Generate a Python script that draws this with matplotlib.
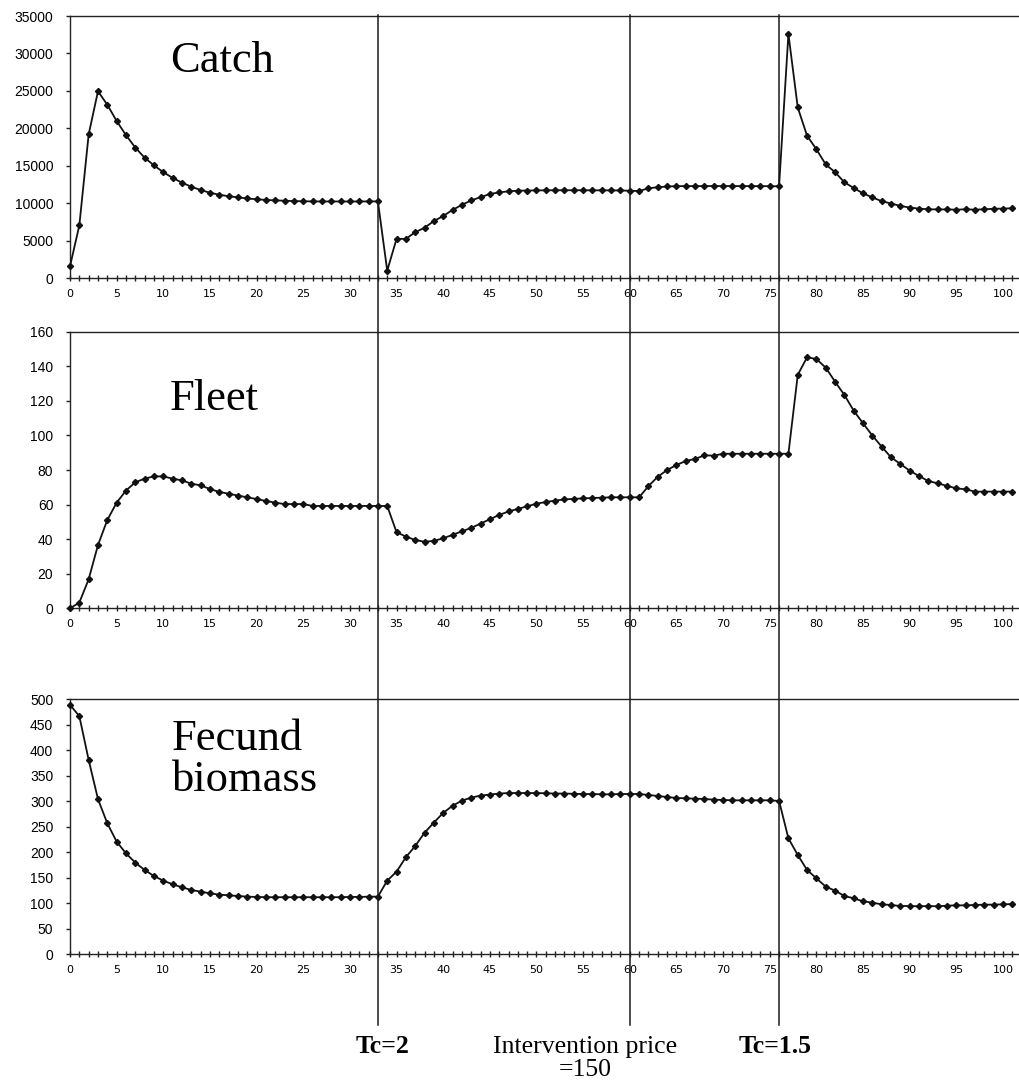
import matplotlib
matplotlib.use('Agg')
import matplotlib.pyplot as plt
from matplotlib.lines import Line2D
from matplotlib.transforms import blended_transform_factory
from matplotlib.ticker import MultipleLocator

# ---------------- data ----------------
catch = [1600, 7060, 19200, 24960, 23150, 20990, 19100, 17440, 16090, 15060,
         14160, 13400, 12760, 12220, 11780, 11420, 11150, 10950, 10800, 10650,
         10550, 10450, 10400, 10350, 10300, 10280, 10260, 10250, 10250, 10250,
         10250, 10250, 10260, 10260,
         1025, 5260, 5260, 6150, 6740, 7640, 8310, 9120, 9800, 10390,
         10830, 11240, 11470, 11600, 11690,
         11710, 11730, 11740, 11750, 11750, 11750, 11750, 11740, 11740, 11730,
         11720, 11680, 11650,
         12010, 12150, 12250, 12290, 12300, 12300, 12310, 12310, 12310, 12310,
         12300, 12300, 12300, 12290, 12280,
         32600, 22800, 19020, 17220, 15190, 14160, 12810, 12050, 11330, 10790,
         10290, 9980, 9660, 9440, 9300, 9210, 9190, 9190, 9160, 9210,
         9160, 9210, 9280, 9300, 9350]

fleet = [0, 3.3, 16.8, 36.6, 51.1, 61.1, 68.1, 72.9, 75.0, 76.3,
         76.3, 75.0, 74.0, 72.1, 71.1, 69.0, 67.3, 66.3, 65.2, 64.2,
         63.2, 62.1, 61.1, 60.3, 60.3, 60.3, 59.2, 59.2, 59.2, 59.2,
         59.2, 59.2, 59.2, 59.2, 59.2,
         44.0, 41.5, 39.5, 38.5, 39.0, 40.5, 42.5, 44.5, 46.5, 49.0,
         51.5, 54.0, 56.0, 57.5, 59.0, 60.5, 61.5, 62.3, 63.0, 63.3,
         63.6, 63.8, 64.0, 64.2, 64.2, 64.2,
         64.2, 70.7, 76.1, 80.0, 82.9, 85.2, 86.4, 88.5, 88.3,
         89.4, 89.4, 89.4, 89.4, 89.4, 89.4, 89.4, 89.4,
         135.0, 145.2, 144.2, 139.2, 131.1, 123.4, 114.3, 107.0, 99.9, 93.5,
         87.3, 83.5, 79.6, 76.5, 73.6, 72.3, 70.8, 69.4, 68.8, 67.5,
         67.5, 67.5, 67.5, 67.5]

biomass = [489, 467, 381, 304, 256.5, 220.5, 197.6, 179.3, 165, 153,
           144, 136.8, 130.9, 125.7, 122.4, 119.1, 116.5, 115.2, 113.9, 112.6,
           112, 111.5, 111.5, 111.5, 111.5, 111.5, 111.5, 111.5, 111.5, 111.5,
           112, 112, 112.6, 112.6,
           144, 161.6, 190, 212, 238, 258, 277, 291, 301, 307,
           311, 313, 315, 316, 316, 316, 316, 315.5, 315, 315,
           314.5, 314, 314,
           313.5, 313.5, 314.1, 314.1, 314.1, 312.2, 310.2, 308.2, 306.3, 305.6,
           305, 304.3, 303, 302.4, 301.7, 301.7, 301.7, 301.7, 301.7, 300.4,
           227.1, 194.4, 164.9, 148.6, 132.2, 124.3, 113.9, 109.3, 103.4, 100.8,
           97.5, 96.2, 94.2, 94.2, 93.6, 94.2, 93.6, 94.9, 95.5, 95.5,
           96.2, 96.9, 96.9, 97.5, 98.0]

catch_yticks = list(range(0, 35001, 5000))
fleet_yticks = list(range(0, 161, 20))
biomass_yticks = list(range(0, 501, 50))
x_ticklabels = list(range(0, 101, 5))

events = [33, 60, 76]
event_texts = ["Tc=2", "Intervention price", "Tc=1.5"]
event_subtext = "=150"

# ---------------- layout ----------------
W, H = 1020, 1080
fig = plt.figure(figsize=(W / 100, H / 100), dpi=100)
fig.patch.set_facecolor('white')

PX_PER_T = 9.33
LEFT_PX = 70
XMAX = (W - LEFT_PX) / PX_PER_T


def axes_px(top, bottom):
    return [LEFT_PX / W, 1 - bottom / H, (W - LEFT_PX) / W, (bottom - top) / H]


panels = [
    (axes_px(16, 278.3), catch, catch_yticks),
    (axes_px(331.7, 608.3), fleet, fleet_yticks),
    (axes_px(699.3, 954), biomass, biomass_yticks),
]

axes = []
for rect, series, yticks in panels:
    ax = fig.add_axes(rect)
    t = list(range(len(series)))
    ax.plot(t, series, color='#111111', lw=1.3, marker='D', ms=3.1,
            mfc='#111111', mec='#111111', clip_on=False, zorder=3)
    ax.set_xlim(0, XMAX)
    ax.set_ylim(yticks[0], yticks[-1])
    ax.set_yticks(yticks)
    ax.set_yticklabels([str(v) for v in yticks],
                       fontfamily=['Liberation Sans', 'DejaVu Sans'], fontsize=10)
    ax.set_xticks(x_ticklabels)
    ax.set_xticklabels([str(v) for v in x_ticklabels],
                       fontfamily=['Liberation Sans Narrow', 'DejaVu Sans'],
                       fontsize=8)
    ax.xaxis.set_minor_locator(MultipleLocator(1))
    ax.tick_params(axis='x', which='both', direction='inout', length=4,
                   width=1, color='#222222', pad=6)
    ax.tick_params(axis='y', direction='out', length=3, width=1,
                   color='#222222', pad=9)
    for side in ('left', 'bottom', 'top'):
        ax.spines[side].set_color('#222222')
        ax.spines[side].set_linewidth(1.0)
    ax.spines['right'].set_visible(False)
    axes.append(ax)

serif = ['Liberation Serif', 'DejaVu Serif']
axes[0].text(0.105, 0.788, "Catch", transform=axes[0].transAxes,
             fontfamily=serif, fontsize=32, va='baseline', ha='left')
axes[1].text(0.105, 0.717, "Fleet", transform=axes[1].transAxes,
             fontfamily=serif, fontsize=32, va='baseline', ha='left')
axes[2].text(0.107, 0.801, "Fecund", transform=axes[2].transAxes,
             fontfamily=serif, fontsize=32, va='baseline', ha='left')
axes[2].text(0.107, 0.641, "biomass", transform=axes[2].transAxes,
             fontfamily=serif, fontsize=32, va='baseline', ha='left')

# event lines spanning all panels
trans = blended_transform_factory(axes[0].transData, fig.transFigure)
y_top = 1 - 15 / H
y_bot = 1 - 1025 / H
for ev in events:
    fig.add_artist(Line2D([ev, ev], [y_top, y_bot], transform=trans,
                          color='#1a1a1a', lw=1.1))

# annotations beneath
base1 = 1 - 1053 / H
base2 = 1 - 1076 / H
fig.text(events[0] + 0.5, base1, event_texts[0], transform=trans,
         fontfamily=serif, fontsize=18.5, fontweight='bold',
         ha='center', va='baseline')
fig.text(events[1] - 4.8, base1, event_texts[1], transform=trans,
         fontfamily=serif, fontsize=18.5, ha='center', va='baseline')
fig.text(events[1] - 4.8, base2, event_subtext, transform=trans,
         fontfamily=serif, fontsize=18.5, ha='center', va='baseline')
fig.text(events[2] - 0.4, base1, event_texts[2], transform=trans,
         fontfamily=serif, fontsize=18.5, fontweight='bold',
         ha='center', va='baseline')

fig.savefig('out.png', dpi=100, facecolor='white')
